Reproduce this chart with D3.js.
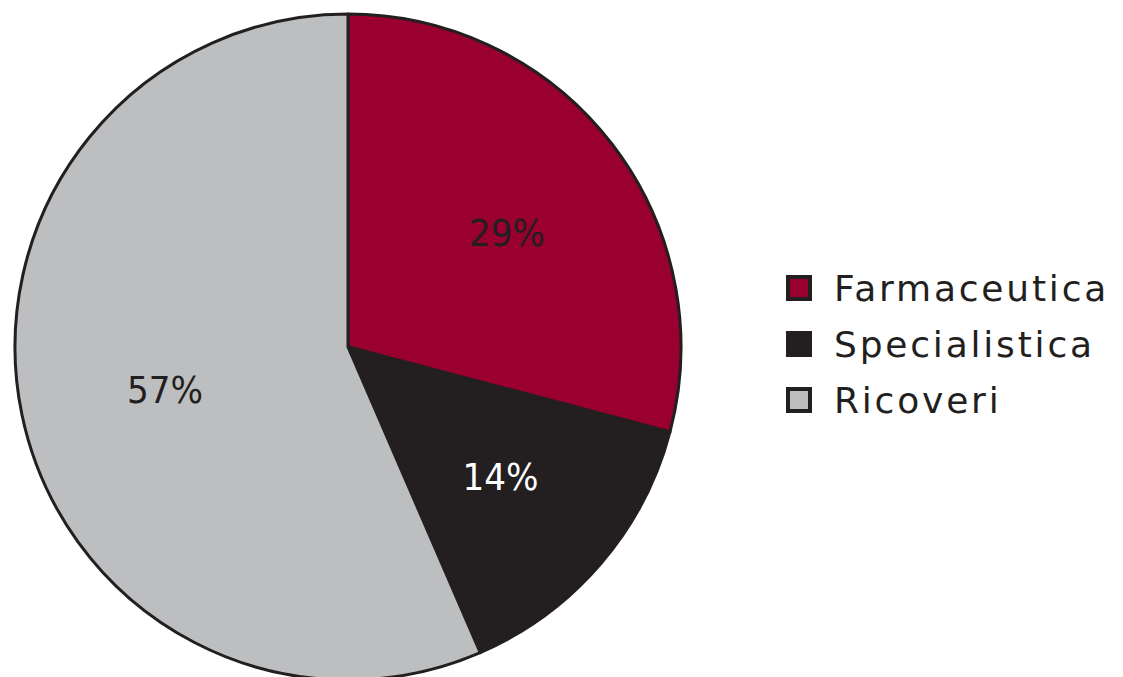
<!DOCTYPE html>
<html>
<head>
<meta charset="utf-8">
<script src="https://cdn.jsdelivr.net/npm/d3@7"></script>
<style>
  body { margin: 0; background: #fff; }
  svg { display: block; }
</style>
</head>
<body>
<div id="chart-area"></div>
<script>
// DATA
const categories = ["Farmaceutica", "Specialistica", "Ricoveri"]
const shares = [29.1, 14.4, 56.5]
const sliceColors = ["#990030", "#231f20", "#bcbec0"]
const labelColors = ["#231f20", "#ffffff", "#231f20"]

const WIDTH = 1123
const HEIGHT = 677
const CENTER = {X: 348, Y: 347}
const RADIUS = 333
const INK = "#231f20"

const svg = d3.select("#chart-area").append("svg")
    .attr("width", WIDTH)
    .attr("height", HEIGHT)

const data = categories.map((c, i) => ({name: c, value: shares[i]}))

const color = d3.scaleOrdinal().domain(categories).range(sliceColors)
const labelColor = d3.scaleOrdinal().domain(categories).range(labelColors)

// --- pie, clockwise from 12 o'clock, no sorting
const pie = d3.pie().value(d => d.value).sort(null)
const arc = d3.arc().innerRadius(0).outerRadius(RADIUS)
const labelArc = d3.arc().innerRadius(RADIUS * 0.58).outerRadius(RADIUS * 0.58)

const g = svg.append("g")
    .attr("transform", `translate(${CENTER.X}, ${CENTER.Y})`)

const arcs = pie(data)

g.selectAll("path")
    .data(arcs)
    .enter()
    .append("path")
    .attr("d", arc)
    .attr("fill", d => color(d.data.name))
    .attr("stroke", INK)
    .attr("stroke-width", 3)
    .attr("stroke-linejoin", "round")

g.selectAll(".data-label")
    .data(arcs)
    .enter()
    .append("text")
    .attr("class", "data-label")
    .attr("x", d => labelArc.centroid(d)[0] + 6)
    .attr("y", d => labelArc.centroid(d)[1] + 4)
    .attr("text-anchor", "middle")
    .attr("dominant-baseline", "central")
    .attr("font-family", "'DejaVu Sans Condensed', 'DejaVu Sans', sans-serif")
    .attr("font-size", "38px")
    .attr("fill", d => labelColor(d.data.name))
    .text(d => Math.round(d.data.value) + "%")

// --- legend
const rowY = d3.scalePoint()
    .domain(categories)
    .range([288, 400])

const legend = svg.append("g").attr("class", "legend")

const rows = legend.selectAll("g")
    .data(categories)
    .enter()
    .append("g")
    .attr("transform", d => `translate(786, ${rowY(d)})`)

rows.append("rect")
    .attr("x", 2)
    .attr("y", -11)
    .attr("width", 22)
    .attr("height", 22)
    .attr("fill", d => color(d))
    .attr("stroke", INK)
    .attr("stroke-width", 4)

rows.append("text")
    .attr("x", 48)
    .attr("y", 13)
    .attr("font-family", "'DejaVu Sans', sans-serif")
    .attr("font-size", "36px")
    .attr("letter-spacing", "2.8px")
    .attr("fill", INK)
    .text(d => d)
</script>
</body>
</html>
